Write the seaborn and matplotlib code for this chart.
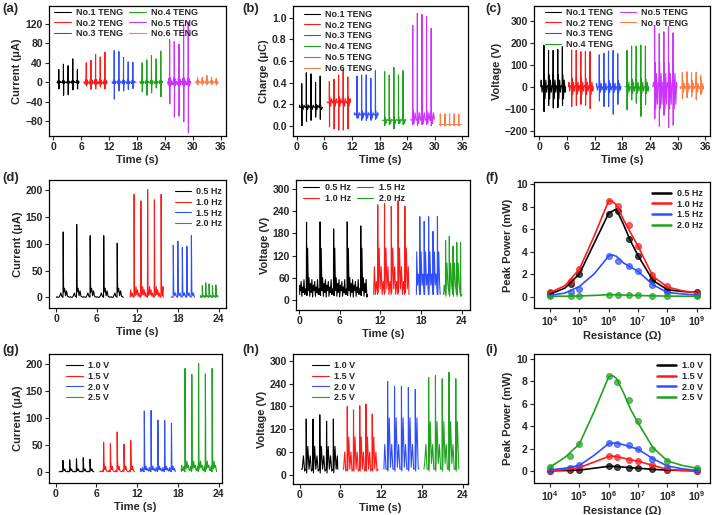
import numpy as np
import pandas as pd
import matplotlib.pyplot as plt
import seaborn as sns

sns.set_style('ticks')
plt.rcParams['font.family'] = ['Liberation Sans', 'DejaVu Sans']
plt.rcParams['font.weight'] = 'bold'
plt.rcParams['axes.labelweight'] = 'bold'
plt.rcParams['mathtext.fontset'] = 'custom'
for key in ['mathtext.rm', 'mathtext.it', 'mathtext.bf']:
    plt.rcParams[key] = 'Liberation Sans:bold'
plt.rcParams['axes.linewidth'] = 0.9
plt.rcParams['axes.edgecolor'] = 'black'

colors6 = ['black', '#ff1a1a', '#2f4fff', '#1fa31f', '#cc33ff', '#ff7a45']
colors4 = colors6[:4]

# ---------------- (a) current of six TENGs ----------------
teng_labels = ['No.1 TENG', 'No.2 TENG', 'No.3 TENG', 'No.4 TENG', 'No.5 TENG', 'No.6 TENG']
a_start = [0.8, 6.5, 12.6, 18.5, 24.5, 30.5]
a_end = [5.6, 11.6, 17.8, 23.5, 29.6, 35.4]
a_first = [1.2, 7.1, 13.1, 19.1, 25.0, 31.0]
a_peak = [[26, 37, 34, 48, 26], [40, 45, 57, 52, 62], [65, 63, 51, 42, 41],
          [40, 46, 55, 48, 64], [88, 84, 78, 120, 124], [10, 10, 14, 10, 8]]
a_dip = [[-14, -27, -26, -16, -14], [-8, -15, -14, -10, -14], [-35, -18, -18, -15, -13],
         [-20, -27, -22, -12, -30], [-45, -72, -70, -82, -105], [-5, -6, -5, -5, -6]]
a_ripple = [[3, -3, 2, 0, 0, 0, 0, 0, -2, 3],
            [6, -5, 4, -3, 0, 0, 0, 0, -4, 5],
            [4, -4, 2, 0, 0, 0, 0, 0, -3, 4],
            [4, -4, 2, 0, 0, 0, 0, 0, -3, 4],
            [9, -8, 6, -5, 2, 0, 0, -4, -6, 8],
            [4, -3, 2, 0, 0, 0, 0, 0, -2, 3]]

# ---------------- (b) charge of six TENGs ----------------
b_start = [0.6, 6.6, 12.5, 18.6, 24.8, 30.9]
b_end = [5.6, 11.7, 17.7, 23.7, 29.9, 35.8]
b_first = [1.1, 7.1, 13.1, 19.1, 25.2, 31.2]
b_base = [0.17, 0.22, 0.10, 0.05, 0.06, 0.01]
b_peak = [[0.39, 0.49, 0.48, 0.40, 0.46], [0.41, 0.43, 0.47, 0.52, 0.45],
          [0.46, 0.47, 0.47, 0.44, 0.51], [0.50, 0.47, 0.54, 0.47, 0.51],
          [0.93, 1.04, 1.03, 1.01, 0.90], [0.11, 0.11, 0.11, 0.11, 0.11]]
b_dip = [[0.0, 0.04, 0.05, 0.08, 0.06], [-0.01, -0.03, -0.04, -0.04, -0.03],
         [0.07, 0.05, 0.05, 0.05, 0.06], [0.0, 0.01, -0.03, 0.02, 0.01],
         [0.01, 0.0, 0.01, 0.01, 0.0], [0.0, 0.0, 0.0, 0.0, 0.0]]
b_ripple = [[0.20, 0.15, 0.19, 0.17],
            [0.27, 0.18, 0.25, 0.21],
            [0.14, 0.07, 0.12, 0.10],
            [0.08, 0.02, 0.06, 0.05],
            [0.14, 0.02, 0.12, 0.05],
            [0.01, 0.01]]

# ---------------- (c) voltage of six TENGs ----------------
c_start = [0.3, 6.4, 12.4, 18.6, 24.6, 30.5]
c_end = [5.7, 11.7, 17.7, 23.7, 29.8, 35.6]
c_first = [1.0, 7.0, 13.0, 19.0, 25.0, 31.0]
c_peak = [[188, 165, 165, 170, 182], [167, 165, 159, 160, 160], [145, 152, 162, 165, 150],
          [165, 185, 185, 190, 185], [278, 242, 250, 273, 245], [65, 68, 65, 65, 50]]
c_dip = [[-113, -85, -97, -95, -85], [-90, -85, -80, -85, -100], [-65, -90, -90, -125, -80],
         [-105, -60, -75, -135, -80], [-145, -180, -130, -185, -175], [-55, -50, -45, -60, -35]]
c_ripple = [[55, -55, 30, -25, 5],
            [40, -35, 20, -20, 5],
            [30, -25, 15, -15, 0],
            [35, -30, 20, -20, 0],
            [110, -100, 60, -80, 20],
            [30, -25, 15, -10, 0]]

# ---------------- (d) current vs frequency ----------------
freq_labels = ['0.5 Hz', '1.0 Hz', '1.5 Hz', '2.0 Hz']
d_start = [0.0, 10.9, 17.0, 21.3]
d_end = [9.9, 15.8, 20.4, 23.9]
d_first = [1.0, 11.5, 17.3, 21.6]
d_gap = [2.0, 1.0, 0.67, 0.5]
d_peak = [[122, 136, 115, 115, 101], [192, 180, 201, 182, 192],
          [97, 105, 93, 95, 115], [22, 27, 25, 22, 23]]
d_ripple = [[10, 17, 3, 12, 2, 1, 0, 1, 0, 0, 3, 8, 2],
            [12, 3, 20, 5, 14, 2, 8, 1],
            [12, 3, 8, 1],
            [5, 1, 3, 0]]

# ---------------- (e) voltage vs frequency ----------------
e_start = [0.1, 11.0, 17.3, 21.3]
e_end = [10.1, 16.2, 20.8, 24.0]
e_first = [1.1, 11.6, 17.8, 21.6]
e_gap = [2.0, 1.0, 0.65, 0.55]
e_peak = [[210, 211, 192, 211, 200], [257, 260, 253, 268, 253],
          [225, 212, 225, 185, 225], [160, 172, 145, 155, 155]]
e_ripple = [[12, 140, 25, 60, 10, 45, 20, 55, 8, 40, 25, 50, 10, 35, 20, 55, 15, 30],
            [20, 140, 30, 90, 15, 50],
            [15, 130, 40, 70],
            [10, 100, 40]]

# ---------------- (f) peak power vs resistance, frequency ----------------
resist = [1e4, 5e4, 1e5, 1e6, 2e6, 5e6, 1e7, 3e7, 1e8, 1e9]
f_power = [[0.30, 1.13, 2.00, 7.35, 7.65, 5.13, 3.58, 1.45, 0.62, 0.38],
           [0.38, 1.42, 2.46, 8.52, 8.03, 6.40, 4.47, 1.90, 0.92, 0.33],
           [0.12, 0.42, 0.68, 3.64, 3.22, 2.76, 2.25, 1.07, 0.42, 0.15],
           [0.05, 0.05, 0.05, 0.20, 0.17, 0.14, 0.12, 0.10, 0.06, 0.04]]
resist_fit = [1e4, 3.2e4, 1e5, 3.2e5, 1e6, 1.3e6, 1.8e6, 3.2e6, 5.6e6, 1e7, 3.2e7, 1e8, 3.2e8, 1e9]
f_fit = [[0.24, 0.77, 2.04, 4.77, 7.44, 7.60, 7.79, 6.40, 4.92, 3.64, 1.45, 0.62, 0.47, 0.38],
         [0.38, 0.98, 2.46, 5.42, 8.56, 8.50, 8.17, 6.84, 5.66, 4.47, 1.81, 0.86, 0.53, 0.33],
         [0.12, 0.33, 0.92, 2.04, 3.64, 3.73, 3.60, 3.00, 2.64, 2.25, 1.07, 0.38, 0.25, 0.15],
         [0.04, 0.05, 0.07, 0.12, 0.18, 0.18, 0.17, 0.15, 0.13, 0.11, 0.08, 0.06, 0.05, 0.04]]

# ---------------- (g) current vs voltage ----------------
volt_labels = ['1.0 V', '1.5 V', '2.0 V', '2.5 V']
g_start = [0.5, 6.5, 12.5, 18.5]
g_end = [5.6, 11.6, 17.6, 23.7]
g_first = [1.05, 7.05, 13.05, 19.05]
g_peak = [[21, 22, 24, 26, 23], [55, 52, 74, 51, 58],
          [113, 114, 96, 95, 90], [192, 181, 201, 182, 192]]
g_ripple = [[8, 2, 5, 1, 0, 0, 1, 0],
            [18, 4, 10, 2, 1, 0, 0, 3],
            [14, 4, 10, 3, 6, 2, 1, 8, 2],
            [18, 5, 20, 8, 12, 3, 2, 10]]

# ---------------- (h) voltage vs voltage ----------------
h_start = [0.25, 6.4, 12.4, 18.3]
h_end = [5.6, 11.55, 17.55, 23.45]
h_first = [0.95, 7.0, 12.95, 19.0]
h_gap = [1.0, 0.92, 1.02, 1.0]
h_peak = [[147, 147, 158, 141, 147], [180, 171, 182, 186, 160],
          [246, 232, 232, 230, 225], [256, 261, 253, 270, 253]]
h_ripple = [[5, 75, 15, 50, 10],
            [10, 100, 15, 60, 10],
            [10, 150, 20, 80, 15],
            [10, 140, 30, 80, 15]]

# ---------------- (i) peak power vs resistance, voltage ----------------
i_power = [[0.02, 0.05, 0.07, 0.45, 0.35, 0.30, 0.25, 0.15, 0.08, 0.03],
           [0.00, 0.20, 0.30, 1.35, 1.25, 1.00, 0.90, 0.55, 0.05, 0.00],
           [0.10, 0.30, 0.50, 2.50, 2.45, 2.30, 1.95, 1.10, 0.40, 0.05],
           [0.35, 1.35, 2.40, 8.50, 7.95, 6.35, 4.45, 1.95, 0.90, 0.25]]
i_fit = [[0.02, 0.04, 0.08, 0.25, 0.42, 0.42, 0.40, 0.35, 0.30, 0.25, 0.15, 0.08, 0.05, 0.03],
         [0.00, 0.12, 0.30, 0.80, 1.30, 1.33, 1.30, 1.15, 1.00, 0.88, 0.50, 0.15, 0.05, 0.00],
         [0.10, 0.25, 0.50, 1.40, 2.45, 2.50, 2.50, 2.35, 2.15, 1.95, 1.10, 0.45, 0.20, 0.05],
         [0.35, 1.20, 2.40, 5.30, 8.40, 8.55, 8.30, 7.00, 5.50, 4.30, 2.10, 0.90, 0.50, 0.25]]


def pulse_trace(start, end, first, gap, peaks, ripple, base=0.0, dips=None, w=0.03):
    xs, ys = [start], [base]
    n = len(ripple)

    def add_ripple(t0):
        for j, r in enumerate(ripple):
            x = t0 + 2 * w + (gap - 4 * w) * j / n
            if start < x < end:
                xs.append(x)
                ys.append(r)

    add_ripple(first - gap)
    for k, p in enumerate(peaks):
        t = first + k * gap
        xs += [t - w, t]
        ys += [base, p]
        if dips is not None:
            xs.append(t + w)
            ys.append(dips[k])
        add_ripple(t)
    xs.append(end)
    ys.append(base)
    return xs, ys


def draw_line(ax, xs, ys, color, label, lw=0.8):
    sns.lineplot(x=xs, y=ys, ax=ax, color=color, lw=lw, label=label,
                 estimator=None, sort=False, legend=False)


def style_axis(ax, xlabel, ylabel):
    ax.set_xlabel(xlabel, fontsize=8, labelpad=2)
    ax.set_ylabel(ylabel, fontsize=8, labelpad=2)
    ax.tick_params(direction='out', length=3, width=0.8, labelsize=7.5, pad=1.5)
    ax.tick_params(which='minor', length=0)


def add_legend(ax, loc, anchor, ncol=1, handles=None, labels=None, hl=1.8):
    kw = dict(loc=loc, bbox_to_anchor=anchor, ncol=ncol, frameon=False,
              fontsize=6.5, handlelength=hl, handletextpad=0.6, labelspacing=0.2,
              columnspacing=0.7, borderpad=0.2, borderaxespad=0)
    if handles is not None:
        ax.legend(handles, labels, **kw)
    else:
        ax.legend(**kw)


W, H = 713, 515
fig = plt.figure(figsize=(W / 100, H / 100), dpi=100)


def make_axes(x0, x1, y0, y1):
    return fig.add_axes([x0 / W, 1 - y1 / H, (x1 - x0) / W, (y1 - y0) / H])


# (a)
ax = make_axes(49, 226, 6, 136)
for i in range(6):
    xs, ys = pulse_trace(a_start[i], a_end[i], a_first[i], 1.0, a_peak[i], a_ripple[i], dips=a_dip[i])
    draw_line(ax, xs, ys, colors6[i], teng_labels[i])
ax.set_xlim(-0.9, 37.1)
ax.set_ylim(-111, 157)
ax.set_xticks(range(0, 37, 6))
ax.set_yticks(range(-80, 121, 40))
style_axis(ax, 'Time (s)', 'Current (μA)')
add_legend(ax, 'upper left', (0.02, 1.0), ncol=2)

# (b)
ax = make_axes(293, 468, 6, 136)
for i in range(6):
    xs, ys = pulse_trace(b_start[i], b_end[i], b_first[i], 1.0, b_peak[i], b_ripple[i],
                         base=b_base[i], dips=b_dip[i])
    draw_line(ax, xs, ys, colors6[i], teng_labels[i])
ax.set_xlim(-0.8, 37.2)
ax.set_ylim(-0.095, 1.108)
ax.set_xticks(range(0, 37, 6))
ax.set_yticks([0.0, 0.2, 0.4, 0.6, 0.8, 1.0])
ax.set_yticklabels(['0.0', '0.2', '0.4', '0.6', '0.8', '1.0'])
style_axis(ax, 'Time (s)', 'Charge (μC)')
add_legend(ax, 'upper left', (0.05, 0.985))

# (c)
ax = make_axes(534, 710, 6, 136)
for i in range(6):
    xs, ys = pulse_trace(c_start[i], c_end[i], c_first[i], 1.0, c_peak[i], c_ripple[i], dips=c_dip[i])
    draw_line(ax, xs, ys, colors6[i], teng_labels[i])
ax.set_xlim(-1.15, 37.0)
ax.set_ylim(-224, 367)
ax.set_xticks(range(0, 37, 6))
ax.set_yticks(range(-200, 301, 100))
style_axis(ax, 'Time (s)', 'Voltage (V)')
h, l = ax.get_legend_handles_labels()
blank = plt.Line2D([], [], color='none')
add_legend(ax, 'upper left', (0.05, 1.0), ncol=2,
           handles=h + [blank, blank], labels=l + ['', ''])

# (d)
ax = make_axes(49, 226, 180, 308)
for i in range(4):
    xs, ys = pulse_trace(d_start[i], d_end[i], d_first[i], d_gap[i], d_peak[i], d_ripple[i])
    draw_line(ax, xs, ys, colors4[i], freq_labels[i])
ax.set_xlim(-1.1, 25.1)
ax.set_ylim(-20, 219)
ax.set_xticks(range(0, 25, 6))
ax.set_yticks(range(0, 201, 50))
style_axis(ax, 'Time (s)', 'Current (μA)')
add_legend(ax, 'upper right', (0.99, 0.96))

# (e)
ax = make_axes(296, 470, 180, 310)
for i in range(4):
    xs, ys = pulse_trace(e_start[i], e_end[i], e_first[i], e_gap[i], e_peak[i], e_ripple[i], base=15)
    draw_line(ax, xs, ys, colors4[i], freq_labels[i])
ax.set_xlim(-0.45, 25.2)
ax.set_ylim(-27, 324)
ax.set_xticks(range(0, 25, 6))
ax.set_yticks(range(0, 301, 60))
style_axis(ax, 'Time (s)', 'Voltage (V)')
add_legend(ax, 'upper left', (0.03, 0.99), ncol=2)

# (f)
ax = make_axes(534, 710, 182, 308)
ax.set_xscale('log')
for i in range(4):
    sns.lineplot(x=resist_fit, y=f_fit[i], ax=ax, color=colors4[i], lw=1.2,
                 label=freq_labels[i], estimator=None, sort=False, legend=False)
    sns.scatterplot(x=resist, y=f_power[i], ax=ax, color=colors4[i], s=18,
                    alpha=0.7, edgecolor=colors4[i], linewidth=0.8, legend=False)
ax.set_xlim(10 ** 3.45, 10 ** 9.45)
ax.set_ylim(-1, 10.2)
ax.set_xticks([1e4, 1e5, 1e6, 1e7, 1e8, 1e9])
ax.set_yticks(range(0, 11, 2))
style_axis(ax, 'Resistance (Ω)', 'Peak Power (mW)')
add_legend(ax, 'upper right', (0.97, 0.96), hl=2.2)
for line in ax.get_legend().get_lines():
    line.set_linewidth(1.8)

# (g)
ax = make_axes(49, 222, 354, 483)
for i in range(4):
    xs, ys = pulse_trace(g_start[i], g_end[i], g_first[i], 1.0, g_peak[i], g_ripple[i])
    draw_line(ax, xs, ys, colors4[i], volt_labels[i])
ax.set_xlim(-1.0, 24.5)
ax.set_ylim(-21, 219)
ax.set_xticks(range(0, 25, 6))
ax.set_yticks(range(0, 201, 50))
style_axis(ax, 'Time (s)', 'Current (μA)')
add_legend(ax, 'upper left', (0.09, 0.96))

# (h)
ax = make_axes(293, 468, 354, 484)
for i in range(4):
    xs, ys = pulse_trace(h_start[i], h_end[i], h_first[i], h_gap[i], h_peak[i], h_ripple[i], base=15)
    draw_line(ax, xs, ys, colors4[i], volt_labels[i])
ax.set_xlim(-1.0, 24.8)
ax.set_ylim(-24, 318)
ax.set_xticks(range(0, 25, 6))
ax.set_yticks(range(0, 301, 60))
style_axis(ax, 'Time (s)', 'Voltage (V)')
add_legend(ax, 'upper left', (0.1, 0.96))

# (i)
ax = make_axes(534, 710, 354, 483)
ax.set_xscale('log')
for i in range(4):
    sns.lineplot(x=resist_fit, y=i_fit[i], ax=ax, color=colors4[i], lw=1.2,
                 label=volt_labels[i], estimator=None, sort=False, legend=False)
    sns.scatterplot(x=resist, y=i_power[i], ax=ax, color=colors4[i], s=18,
                    alpha=0.7, edgecolor=colors4[i], linewidth=0.8, legend=False)
ax.set_xlim(10 ** 3.46, 10 ** 9.45)
ax.set_ylim(-1.07, 10.45)
ax.set_xticks([1e4, 1e5, 1e6, 1e7, 1e8, 1e9])
ax.set_yticks(range(0, 11, 2))
style_axis(ax, 'Resistance (Ω)', 'Peak Power (mW)')
add_legend(ax, 'upper right', (0.97, 0.96), hl=2.2)
for line in ax.get_legend().get_lines():
    line.set_linewidth(1.8)

# panel letters
for lab, x, y in [('(a)', 2, 3), ('(b)', 242, 3), ('(c)', 485, 3),
                  ('(d)', 2, 172), ('(e)', 242, 172), ('(f)', 485, 172),
                  ('(g)', 2, 344), ('(h)', 242, 344), ('(i)', 485, 344)]:
    fig.text(x / W, 1 - y / H, lab, fontsize=9.5, fontweight='bold', va='top', ha='left')

fig.savefig('out.png', dpi=100)
